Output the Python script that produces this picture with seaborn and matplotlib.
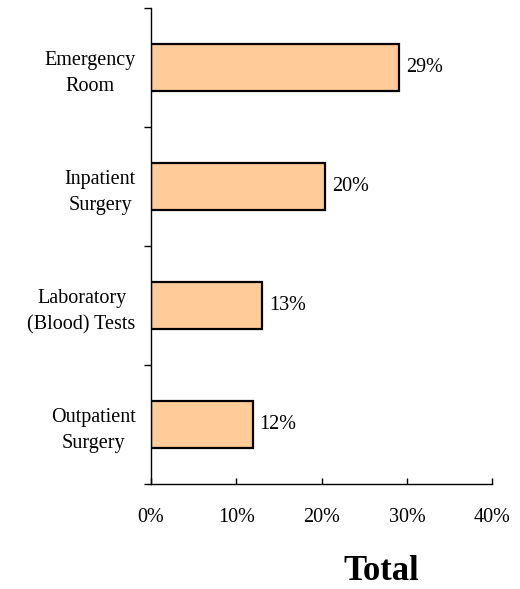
import numpy as np
import pandas as pd
import matplotlib
matplotlib.use("Agg")
import matplotlib.pyplot as plt
import seaborn as sns

# dati
categorie = ["Emergency\nRoom", "Inpatient\nSurgery", "Laboratory\n(Blood) Tests", "Outpatient\nSurgery"]
valori = [29.1, 20.4, 13.0, 11.9]
etichette = ["29%", "20%", "13%", "12%"]
tick_x = [0, 10, 20, 30, 40]
tick_x_lab = ["0%", "10%", "20%", "30%", "40%"]

df = pd.DataFrame({"categoria": categorie, "valore": valori})

sns.set_style("white")
plt.rcParams["font.family"] = ["Liberation Serif", "DejaVu Serif"]
plt.rcParams["text.color"] = "black"
plt.rcParams["xtick.color"] = "black"
plt.rcParams["ytick.color"] = "black"
fs = 14.5

fig = plt.figure(figsize=(5.2, 5.89), dpi=100)
ax = fig.add_axes([151 / 520, 1 - 484 / 589, (492.3 - 151) / 520, (484 - 8) / 589])

sns.barplot(data=df, x="valore", y="categoria", orient="h", color="#FFCC99",
            edgecolor="black", linewidth=1.6, width=0.4, saturation=1, ax=ax)

ax.set_xlim(0, 40)
ax.set_ylim(3.5, -0.5)
ax.set_xticks(tick_x)
ax.set_xticklabels(tick_x_lab, fontsize=fs)
ax.set_yticks(range(len(categorie)))
ax.set_yticklabels(categorie, fontsize=fs, linespacing=1.5)
for lbl in ax.get_yticklabels():
    lbl.set_multialignment("center")
# tacche sull'asse y tra una categoria e l'altra
ax.set_yticks(np.arange(-0.5, len(categorie), 1.0), minor=True)
ax.tick_params(axis="y", which="major", left=True, length=0, pad=11)
ax.tick_params(axis="y", which="minor", left=True, length=5, width=1, direction="out", color="black")
ax.tick_params(axis="x", which="major", bottom=True, length=4, width=1, direction="in", pad=17, color="black")
ax.set_xlabel("")
ax.set_ylabel("")

for s in ["top", "right"]:
    ax.spines[s].set_visible(False)
for s in ["left", "bottom"]:
    ax.spines[s].set_color("black")
    ax.spines[s].set_linewidth(1)

# etichette a destra delle barre
for i, (v, t) in enumerate(zip(valori, etichette)):
    ax.text(v + 0.8, i, t, va="center", ha="left", fontsize=fs)

fig.text(381.7 / 520, 1 / 589, "Total", ha="center", va="bottom",
         fontsize=25, fontweight="bold")

fig.savefig("out.png", dpi=100)
